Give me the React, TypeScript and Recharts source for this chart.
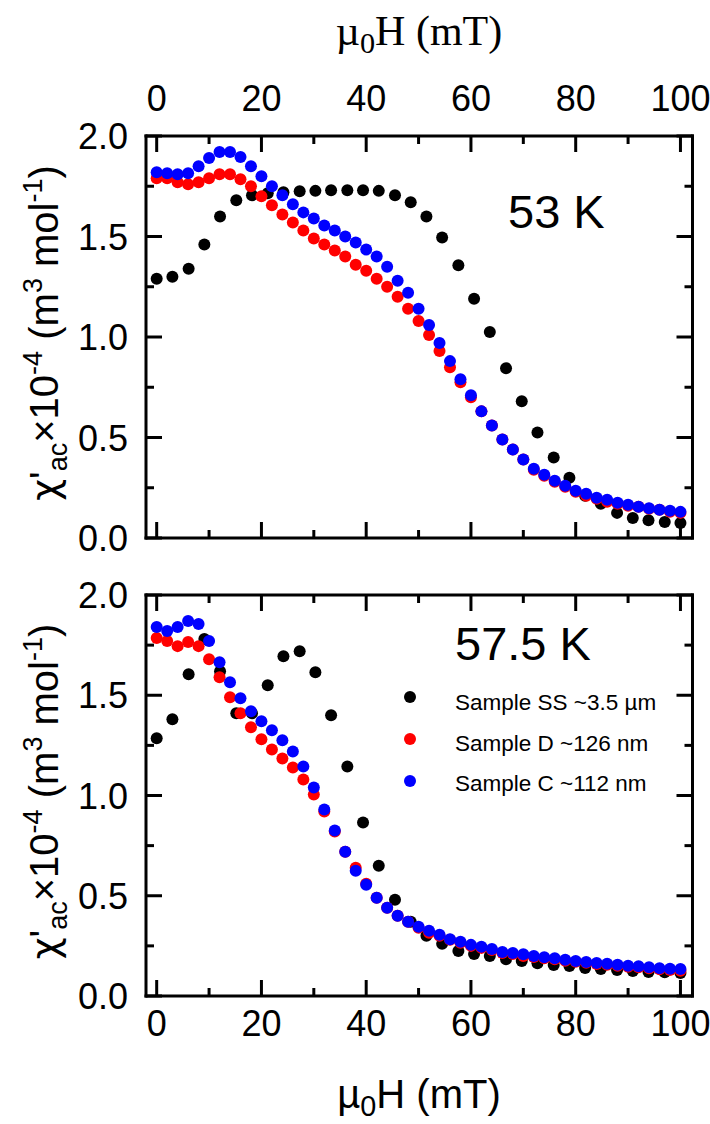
import React from "react";
import { ScatterChart, Scatter, XAxis, YAxis, Legend } from "recharts";

const SANS = '"Liberation Sans", Arial, Helvetica, sans-serif';
const SERIF = '"Liberation Serif", "Times New Roman", Times, serif';

// applied field (mT)
const FIELD_SS = [
  0, 3.0, 6.1, 9.1, 12.1, 15.2, 18.2, 21.2, 24.2, 27.3, 30.3, 33.3, 36.4, 39.4,
  42.4, 45.5, 48.5, 51.5, 54.5, 57.6, 60.6, 63.6, 66.7, 69.7, 72.7, 75.8, 78.8,
  81.8, 84.8, 87.9, 90.9, 93.9, 97.0, 100.0,
];
const FIELD_NANO = [
  0, 2, 4, 6, 8, 10, 12, 14, 16, 18, 20, 22, 24, 26, 28, 30, 32, 34, 36, 38, 40,
  42, 44, 46, 48, 50, 52, 54, 56, 58, 60, 62, 64, 66, 68, 70, 72, 74, 76, 78, 80,
  82, 84, 86, 88, 90, 92, 94, 96, 98, 100,
];

// chi'ac x 1e-4 at 53 K
const SS_53K = [
  1.29, 1.3, 1.34, 1.46, 1.6, 1.68, 1.705, 1.715, 1.72, 1.725, 1.727, 1.73, 1.73,
  1.73, 1.727, 1.705, 1.67, 1.6, 1.495, 1.357, 1.19, 1.025, 0.845, 0.68, 0.525,
  0.4, 0.3, 0.21, 0.17, 0.125, 0.1, 0.088, 0.08, 0.075,
];
const D_53K = [
  1.79, 1.79, 1.77, 1.76, 1.77, 1.79, 1.81, 1.81, 1.785, 1.75, 1.7, 1.655, 1.61,
  1.57, 1.53, 1.49, 1.46, 1.43, 1.4, 1.36, 1.33, 1.29, 1.25, 1.2, 1.14, 1.08,
  1.01, 0.93, 0.85, 0.775, 0.7, 0.63, 0.56, 0.49, 0.44, 0.39, 0.34, 0.31, 0.28,
  0.255, 0.23, 0.21, 0.195, 0.18, 0.17, 0.16, 0.155, 0.145, 0.14, 0.13, 0.125,
];
const C_53K = [
  1.82, 1.815, 1.81, 1.815, 1.85, 1.89, 1.92, 1.92, 1.895, 1.85, 1.8, 1.75,
  1.705, 1.66, 1.62, 1.59, 1.555, 1.53, 1.5, 1.47, 1.435, 1.4, 1.35, 1.28, 1.22,
  1.14, 1.06, 0.97, 0.88, 0.79, 0.71, 0.63, 0.56, 0.49, 0.44, 0.39, 0.345,
  0.315, 0.285, 0.26, 0.235, 0.22, 0.2, 0.19, 0.175, 0.165, 0.155, 0.148, 0.14,
  0.135, 0.13,
];

// chi'ac x 1e-4 at 57.5 K
const SS_575K = [
  1.285, 1.38, 1.605, 1.78, 1.62, 1.41, 1.41, 1.55, 1.695, 1.72, 1.615, 1.4,
  1.145, 0.865, 0.65, 0.48, 0.37, 0.3, 0.26, 0.225, 0.21, 0.2, 0.183, 0.175,
  0.163, 0.155, 0.15, 0.14, 0.135, 0.13, 0.125, 0.12, 0.118, 0.115,
];
const D_575K = [
  1.785, 1.77, 1.745, 1.765, 1.745, 1.68, 1.59, 1.49, 1.41, 1.34, 1.28, 1.23,
  1.185, 1.14, 1.08, 1.005, 0.92, 0.82, 0.72, 0.64, 0.56, 0.49, 0.44, 0.4, 0.37,
  0.34, 0.315, 0.3, 0.28, 0.265, 0.25, 0.24, 0.23, 0.215, 0.21, 0.2, 0.195,
  0.188, 0.183, 0.176, 0.171, 0.166, 0.16, 0.156, 0.151, 0.146, 0.143, 0.138,
  0.133, 0.13, 0.126,
];
const C_575K = [
  1.84, 1.82, 1.84, 1.87, 1.855, 1.77, 1.665, 1.565, 1.485, 1.42, 1.37, 1.325,
  1.275, 1.22, 1.145, 1.04, 0.93, 0.825, 0.72, 0.625, 0.555, 0.49, 0.44, 0.4,
  0.37, 0.345, 0.325, 0.305, 0.283, 0.27, 0.255, 0.246, 0.235, 0.22, 0.215,
  0.208, 0.2, 0.193, 0.188, 0.181, 0.175, 0.17, 0.165, 0.161, 0.156, 0.151,
  0.148, 0.143, 0.138, 0.136, 0.135,
];

const X_TICKS = [0, 10, 20, 30, 40, 50, 60, 70, 80, 90, 100];
const X_LABELS = [0, 20, 40, 60, 80, 100];
const Y_TICKS = [0, 0.25, 0.5, 0.75, 1, 1.25, 1.5, 1.75, 2];
const Y_LABELS = [0, 0.5, 1, 1.5, 2];

const SERIES = [
  { name: "Sample SS ~3.5 \u00b5m", color: "#000000" },
  { name: "Sample D ~126 nm", color: "#ff0000" },
  { name: "Sample C ~112 nm", color: "#0000ff" },
];

const X_DOMAIN: [number, number] = [-2.04, 102.3];
const MAJOR = 16;
const MINOR = 8;
const TICK_FONT = 36;

const toPoints = (xs: number[], ys: number[]) =>
  xs.map((x, i) => ({ x, y: ys[i] }));

const isMajorY = (v: number) => Y_LABELS.some((l) => Math.abs(l - v) < 1e-6);

// bottom axis tick also draws the matching inward tick on the top frame
function makeXTick(plotTop: number, bottomLabels: boolean, topLabels: boolean) {
  return (p: any) => {
    const { x, y, payload } = p;
    const v = payload.value;
    const major = X_LABELS.includes(v);
    const len = major ? MAJOR : MINOR;
    return (
      <g>
        <line x1={x} x2={x} y1={y} y2={y - len} stroke="#000" strokeWidth={3} />
        <line x1={x} x2={x} y1={plotTop} y2={plotTop + len} stroke="#000" strokeWidth={3} />
        {bottomLabels && major && (
          <text x={x} y={y + 40} textAnchor="middle" fontFamily={SANS} fontSize={TICK_FONT} fill="#000">
            {v}
          </text>
        )}
        {topLabels && major && (
          <text x={x} y={plotTop - 25.5} textAnchor="middle" fontFamily={SANS} fontSize={TICK_FONT} fill="#000">
            {v}
          </text>
        )}
      </g>
    );
  };
}

function makeYTick(side: "left" | "right") {
  return (p: any) => {
    const { x, y, payload } = p;
    const v = payload.value;
    const major = isMajorY(v);
    const dir = side === "left" ? 1 : -1;
    return (
      <g>
        <line x1={x} x2={x + dir * (major ? MAJOR : MINOR)} y1={y} y2={y} stroke="#000" strokeWidth={3} />
        {side === "left" && major && (
          <text x={x - 18} y={y + 13} textAnchor="end" fontFamily={SANS} fontSize={TICK_FONT} fill="#000">
            {v.toFixed(1)}
          </text>
        )}
      </g>
    );
  };
}

const yTitle = (props: any) => {
  const vb = props.viewBox;
  const cx = 44;
  const cy = vb.y + vb.height / 2 - 4;
  return (
    <text
      transform={`translate(${cx},${cy}) rotate(-90)`}
      x={0}
      y={14}
      textAnchor="middle"
      fontFamily={SANS}
      fontSize={40}
      fill="#000"
    >
      <tspan fontFamily='"DejaVu Sans", sans-serif' fontSize={38}>{"\u03c7"}</tspan>
      <tspan>'</tspan>
      <tspan dy={9} fontSize={27}>ac</tspan>
      <tspan dy={-9}>{"\u00d710"}</tspan>
      <tspan dy={-16} fontSize={27}>-4</tspan>
      <tspan dy={16}>{" (m"}</tspan>
      <tspan dy={-16} fontSize={27}>3</tspan>
      <tspan dy={16}>{" mol"}</tspan>
      <tspan dy={-16} fontSize={27}>-1</tspan>
      <tspan dy={16}>)</tspan>
    </text>
  );
};

const fieldTitle = (font: string, y: number, size: number) => () => (
  <text x={419} y={y} textAnchor="middle" fontFamily={font} fontSize={size} fill="#000">
    <tspan>{"\u00b5"}</tspan>
    <tspan dy={8} fontSize={size * 0.72}>0</tspan>
    <tspan dy={-8}>H (mT)</tspan>
  </text>
);

const tempLabel = (text: string, x: number, y: number) => () => (
  <text x={x} y={y} fontFamily={SANS} fontSize={47} fill="#000">
    {text}
  </text>
);

const dot = (color: string) => (p: any) => (
  <circle cx={p.cx} cy={p.cy} r={6} fill={color} />
);

const LegendBox = () => (
  <svg width={310} height={130}>
    {SERIES.map((s, i) => (
      <g key={s.name}>
        <circle cx={20} cy={17 + i * 42} r={6} fill={s.color} />
        <text x={65} y={30 + i * 40.5} fontFamily={SANS} fontSize={22.5} fill="#000">
          {s.name}
        </text>
      </g>
    ))}
  </svg>
);

interface PanelProps {
  height: number;
  topH: number;
  bottomH: number;
  ss: number[];
  d: number[];
  c: number[];
  topLabels: boolean;
  bottomLabels: boolean;
  temp: () => React.ReactElement;
  title?: () => React.ReactElement;
  bottomTitle?: () => React.ReactElement;
  legend?: boolean;
}

function Panel(props: PanelProps) {
  const axisLine = { stroke: "#000", strokeWidth: 3, strokeLinecap: "square" as const };
  return (
    <ScatterChart width={710} height={props.height} margin={{ top: 0, right: 0, bottom: 0, left: 0 }}>
      <XAxis
        xAxisId="b"
        type="number"
        dataKey="x"
        orientation="bottom"
        domain={X_DOMAIN}
        allowDataOverflow
        ticks={X_TICKS}
        interval={0}
        height={props.bottomH}
        tickSize={0}
        tickMargin={0}
        tickLine={false}
        axisLine={axisLine}
        tick={makeXTick(props.topH, props.bottomLabels, props.topLabels)}
        label={props.bottomTitle}
      />
      <XAxis
        xAxisId="t"
        type="number"
        orientation="top"
        domain={X_DOMAIN}
        allowDataOverflow
        height={props.topH}
        tick={false}
        tickLine={false}
        axisLine={axisLine}
        label={props.title}
      />
      <YAxis
        yAxisId="l"
        type="number"
        dataKey="y"
        domain={[0, 2]}
        allowDataOverflow
        ticks={Y_TICKS}
        interval={0}
        width={146}
        tickSize={0}
        tickMargin={0}
        tickLine={false}
        axisLine={axisLine}
        tick={makeYTick("left")}
        label={yTitle}
      />
      <YAxis
        yAxisId="r"
        type="number"
        orientation="right"
        domain={[0, 2]}
        allowDataOverflow
        ticks={Y_TICKS}
        interval={0}
        width={17.5}
        tickSize={0}
        tickMargin={0}
        tickLine={false}
        axisLine={axisLine}
        tick={makeYTick("right")}
        label={props.temp}
      />
      <Scatter
        name={SERIES[0].name}
        data={toPoints(FIELD_SS, props.ss)}
        xAxisId="b"
        yAxisId="l"
        fill={SERIES[0].color}
        shape={dot(SERIES[0].color)}
        isAnimationActive={false}
      />
      <Scatter
        name={SERIES[1].name}
        data={toPoints(FIELD_NANO, props.d)}
        xAxisId="b"
        yAxisId="l"
        fill={SERIES[1].color}
        shape={dot(SERIES[1].color)}
        isAnimationActive={false}
      />
      <Scatter
        name={SERIES[2].name}
        data={toPoints(FIELD_NANO, props.c)}
        xAxisId="b"
        yAxisId="l"
        fill={SERIES[2].color}
        shape={dot(SERIES[2].color)}
        isAnimationActive={false}
      />
      {props.legend && (
        <Legend
          layout="vertical"
          verticalAlign="middle"
          align="center"
          wrapperStyle={{ left: 390, top: 120, width: 310, height: 130 }}
          content={LegendBox}
        />
      )}
    </ScatterChart>
  );
}

export default function App() {
  return (
    <div style={{ position: "absolute", left: 0, top: 0, width: 710, height: 1124, background: "#fff" }}>
      <div style={{ position: "absolute", left: 0, top: 0 }}>
        <Panel
          height={560}
          topH={136}
          bottomH={22}
          ss={SS_53K}
          d={D_53K}
          c={C_53K}
          topLabels
          bottomLabels={false}
          temp={tempLabel("53 K", 508, 228)}
          title={fieldTitle(SERIF, 45, 42)}
        />
      </div>
      <div style={{ position: "absolute", left: 0, top: 560 }}>
        <Panel
          height={564}
          topH={35}
          bottomH={128}
          ss={SS_575K}
          d={D_575K}
          c={C_575K}
          topLabels={false}
          bottomLabels
          temp={tempLabel("57.5 K", 455, 100)}
          bottomTitle={fieldTitle(SANS, 1108 - 560, 40)}
          legend
        />
      </div>
    </div>
  );
}
